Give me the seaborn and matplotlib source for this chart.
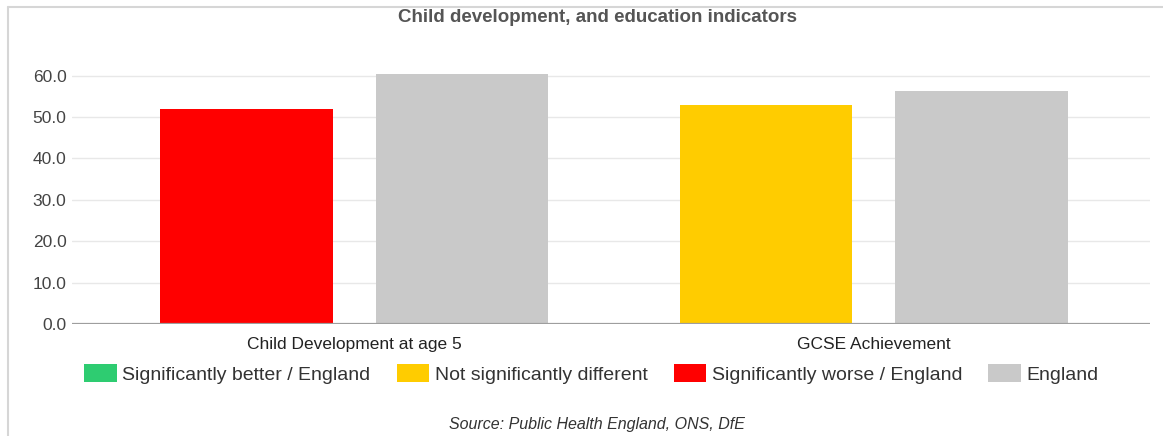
import matplotlib
matplotlib.use("Agg")
import numpy as np
import pandas as pd
import seaborn as sns
import matplotlib.pyplot as plt
from matplotlib.patches import Patch
from matplotlib.lines import Line2D
from matplotlib.ticker import FormatStrFormatter

# ---- data ----
categories = ["Child Development at age 5", "GCSE Achievement"]
area_values = [52.0, 52.8]
england_values = [60.5, 56.4]
area_significance = ["Significantly worse / England", "Not significantly different"]
series_names = ["Area", "England"]
legend_labels = ["Significantly better / England", "Not significantly different",
                 "Significantly worse / England", "England"]
legend_colors = ["#2ECC71", "#FFCC00", "#FF0000", "#C9C9C9"]
y_ticks = [0, 10, 20, 30, 40, 50, 60]
title = "Child development, and education indicators"
source = "Source: Public Health England, ONS, DfE"

sns.set_theme(style="white")
plt.rcParams['font.family'] = ['Liberation Sans', 'DejaVu Sans']

color_map = dict(zip(legend_labels, legend_colors))

df = pd.DataFrame({
    "category": categories * 2,
    "series": [series_names[0]] * len(categories) + [series_names[1]] * len(categories),
    "value": area_values + england_values,
})

W, H = 1163, 436
fig = plt.figure(figsize=(W / 100, H / 100), dpi=100)
fig.patch.set_facecolor("white")

ymax = 62
ax_left, ax_right, ax_bottom = 72, 1150, 324
px_per_unit = 4.14
ax_h = ymax * px_per_unit
ax = fig.add_axes([ax_left / W, 1 - ax_bottom / H, (ax_right - ax_left) / W, ax_h / H])

sns.barplot(data=df, x="category", y="value", hue="series",
            palette={"Area": "#FF0000", "England": "#C9C9C9"},
            width=0.83, gap=0.2, linewidth=0, legend=False, ax=ax)

for patch, sig in zip(ax.containers[0], area_significance):
    patch.set_facecolor(color_map[sig])

ax.set_xlim(-0.543, 1.532)
ax.set_ylim(0, ymax)
ax.set_yticks(y_ticks)
ax.yaxis.set_major_formatter(FormatStrFormatter("%.1f"))
ax.yaxis.grid(True, color="#e8e8e8", lw=1)
ax.set_axisbelow(True)
ax.axhline(0, color="#9e9e9e", lw=1.6, zorder=3)
for s in ax.spines.values():
    s.set_visible(False)
ax.set_xlabel("")
ax.set_ylabel("")
ax.tick_params(axis="y", length=0, pad=4, labelsize=12.5, labelcolor="#444444")
ax.tick_params(axis="x", length=0, pad=9, labelsize=12.5, labelcolor="#222222")

# title and source
fig.text(597 / W, 1 - 18 / H, title, ha="center", va="center",
         fontsize=13.5, fontweight="bold", color="#555555")
fig.text(597 / W, 1 - 424 / H, source, ha="center", va="center",
         fontsize=11.5, style="italic", color="#333333")

# legend
handles = [Patch(facecolor=c, edgecolor="none") for c in legend_colors]
fig.legend(handles, legend_labels, loc="center", bbox_to_anchor=(591.5 / W, 1 - 374 / H),
           ncol=4, frameon=False, fontsize=14, handlelength=1.65, handleheight=1.03,
           handletextpad=0.3, columnspacing=1.35, labelcolor="#333333")

# outer frame (left and top edges)
fig.add_artist(Line2D([8 / W, 8 / W], [0, 1 - 7 / H], color="#d6d6d6", lw=1.5))
fig.add_artist(Line2D([8 / W, 1], [1 - 7 / H, 1 - 7 / H], color="#d6d6d6", lw=1.5))

fig.savefig("out.png", dpi=100)
